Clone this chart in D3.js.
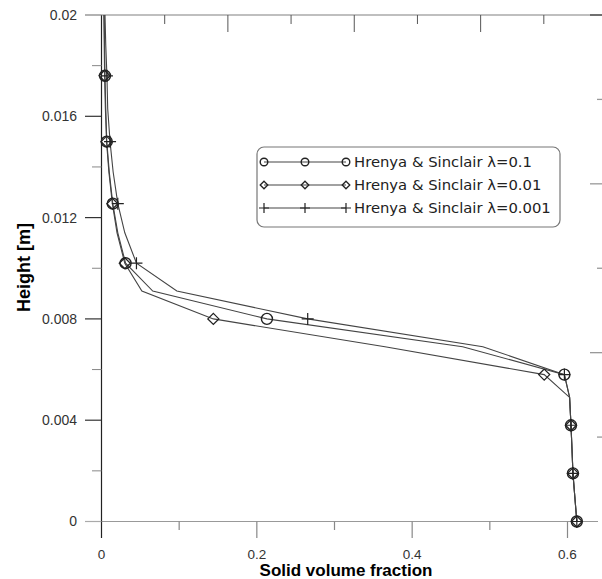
<!DOCTYPE html>
<html><head><meta charset="utf-8">
<script src="https://cdn.jsdelivr.net/npm/d3@7"></script>
<style>body{margin:0;background:#fff}svg{display:block}</style>
</head><body>
<svg id="c" width="602" height="579"></svg>
<script>
// ---- data ----
const heights = [0, 0.00095, 0.0019, 0.00285, 0.0038, 0.0049, 0.0058, 0.0069, 0.008, 0.0091, 0.0102, 0.0114, 0.01255, 0.0138, 0.015, 0.0163, 0.0176, 0.0188, 0.02];
const markerIdx = [0, 2, 4, 6, 8, 10, 12, 14, 16];
const lambda01   = [0.612, 0.6095, 0.607, 0.6058, 0.6045, 0.6027, 0.596, 0.465, 0.213, 0.066, 0.031, 0.021, 0.0145, 0.010, 0.0068, 0.0055, 0.0045, 0.004, 0.0035];
const lambda001  = [0.612, 0.6095, 0.607, 0.6058, 0.6045, 0.6027, 0.570, 0.365, 0.144, 0.052, 0.030, 0.020, 0.014, 0.0095, 0.0065, 0.005, 0.004, 0.0035, 0.003];
const lambda0001 = [0.612, 0.6095, 0.607, 0.6058, 0.6045, 0.6027, 0.596, 0.491, 0.2655, 0.097, 0.045, 0.030, 0.021, 0.015, 0.011, 0.008, 0.007, 0.0055, 0.0045];
const seriesNames = ["Hrenya & Sinclair \u03bb=0.1", "Hrenya & Sinclair \u03bb=0.01", "Hrenya & Sinclair \u03bb=0.001"];
const seriesMarkers = ["circle", "diamond", "plus"];
const xTickValues = [0, 0.2, 0.4, 0.6];
const xMinorTicks = [0.1, 0.3, 0.5];
const yTickValues = [0, 0.004, 0.008, 0.012, 0.016, 0.02];
const yMinorTicks = [0.002, 0.006, 0.01, 0.014, 0.018];
const xTitle = "Solid volume fraction";
const yTitle = "Height [m]";

const series = [lambda01, lambda001, lambda0001].map((v, i) => ({
  name: seriesNames[i], marker: seriesMarkers[i],
  pts: v.map((x, j) => ({x, y: heights[j], j}))
}));

const svg = d3.select("#c");
const x = d3.scaleLinear().domain([0, 0.6]).range([101.5, 567.5]);
const y = d3.scaleLinear().domain([0, 0.02]).range([521.5, 15]);
const FONT = "'Liberation Sans', Arial, sans-serif";

// frame lines
svg.append("line").attr("x1", 85).attr("x2", 602).attr("y1", y(0.02)).attr("y2", y(0.02)).attr("stroke", "#aaa").attr("stroke-width", 1.5);
svg.append("line").attr("x1", 85).attr("x2", 598).attr("y1", y(0)).attr("y2", y(0)).attr("stroke", "#999").attr("stroke-width", 1.2);

// top decorative ticks (secondary axis)
const xTop = d3.scaleLinear().domain([0, 8]).range([101.5, 607]);
d3.range(1, 8).forEach(k => {
  svg.append("line").attr("x1", xTop(k)).attr("x2", xTop(k)).attr("y1", 15).attr("y2", k % 2 === 0 ? 32 : 24).attr("stroke", "#555").attr("stroke-width", 1);
});
svg.append("line").attr("x1", 590).attr("x2", 602).attr("y1", 15).attr("y2", 15).attr("stroke", "#555").attr("stroke-width", 1.5);
// right decorative ticks
const yRight = d3.scaleLinear().domain([0, 6]).range([15, 521.5]);
d3.range(1, 6).forEach(k => {
  svg.append("line").attr("x1", k % 2 === 0 ? 590 : 597).attr("x2", 602).attr("y1", yRight(k)).attr("y2", yRight(k)).attr("stroke", "#999").attr("stroke-width", 1.3);
});

// left axis
svg.append("line").attr("x1", 101.5).attr("x2", 101.5).attr("y1", 15).attr("y2", 538).attr("stroke", "#222").attr("stroke-width", 1.2);
const yAxis = svg.append("g");
yAxis.selectAll("line.maj").data(yTickValues).join("line")
  .attr("x1", 85).attr("x2", 101.5).attr("y1", d => y(d)).attr("y2", d => y(d))
  .attr("stroke", d => (d === 0 || d === 0.02) ? "#aaa" : "#333").attr("stroke-width", 1.2);
yAxis.selectAll("line.min").data(yMinorTicks).join("line")
  .attr("x1", 92).attr("x2", 101.5).attr("y1", d => y(d)).attr("y2", d => y(d))
  .attr("stroke", "#888").attr("stroke-width", 1);
yAxis.selectAll("text").data(yTickValues).join("text")
  .attr("x", 77).attr("y", d => y(d)).attr("dy", "0.35em").attr("text-anchor", "end")
  .attr("font-family", FONT).attr("font-size", 14).attr("fill", "#333")
  .text(d => d === 0 ? "0" : d3.format(".3~f")(d));

// bottom axis
const xAxis = svg.append("g");
xAxis.selectAll("line.maj").data(xTickValues.filter(d => d > 0)).join("line")
  .attr("x1", d => x(d)).attr("x2", d => x(d)).attr("y1", y(0)).attr("y2", 538)
  .attr("stroke", "#888").attr("stroke-width", 1.2);
xAxis.selectAll("line.min").data(xMinorTicks).join("line")
  .attr("x1", d => x(d)).attr("x2", d => x(d)).attr("y1", y(0)).attr("y2", 530)
  .attr("stroke", "#888").attr("stroke-width", 1.2);
xAxis.selectAll("text").data(xTickValues).join("text")
  .attr("x", d => x(d)).attr("y", 559).attr("text-anchor", "middle")
  .attr("font-family", FONT).attr("font-size", 13.5).attr("fill", "#333")
  .text(d => d === 0 ? "0" : d3.format(".1f")(d));

// titles
svg.append("text").attr("x", 346).attr("y", 576).attr("text-anchor", "middle")
  .attr("font-family", FONT).attr("font-weight", "bold").attr("font-size", 17).attr("fill", "#000").text(xTitle);
svg.append("text").attr("transform", "translate(30,267.5) rotate(-90)").attr("text-anchor", "middle")
  .attr("font-family", FONT).attr("font-weight", "bold").attr("font-size", 18).attr("fill", "#000").text(yTitle);

// markers
function drawMarker(g, type, cx, cy, s) {
  if (type === "circle") {
    g.append("circle").attr("cx", cx).attr("cy", cy).attr("r", s).attr("fill", "none").attr("stroke", "#222").attr("stroke-width", 1.4);
  } else if (type === "diamond") {
    g.append("path").attr("d", `M${cx},${cy - s}L${cx + s},${cy}L${cx},${cy + s}L${cx - s},${cy}Z`)
      .attr("fill", "none").attr("stroke", "#222").attr("stroke-width", 1.3);
  } else {
    g.append("path").attr("d", `M${cx - s},${cy}H${cx + s}M${cx},${cy - s}V${cy + s}`)
      .attr("fill", "none").attr("stroke", "#222").attr("stroke-width", 1.2);
  }
}

// lines
const line = d3.line().x(d => x(d.x)).y(d => y(d.y));
const plot = svg.append("g");
series.forEach(s => {
  plot.append("path").datum(s.pts).attr("d", line).attr("fill", "none").attr("stroke", "#444").attr("stroke-width", 1.1);
});
series.forEach(s => {
  const g = plot.append("g");
  s.pts.filter(p => markerIdx.includes(p.j)).forEach(p => {
    drawMarker(g, s.marker, x(p.x), y(p.y), s.marker === "circle" ? 5.5 : (s.marker === "diamond" ? 5.5 : 6));
  });
});

// legend
const lg = svg.append("g");
lg.append("rect").attr("x", 257).attr("y", 147).attr("width", 303).attr("height", 80).attr("rx", 7)
  .attr("fill", "#fff").attr("stroke", "#777").attr("stroke-width", 1.2);
series.forEach((s, i) => {
  const cy = 162 + i * 23;
  lg.append("line").attr("x1", 264).attr("x2", 346).attr("y1", cy).attr("y2", cy).attr("stroke", "#444").attr("stroke-width", 1.1);
  [264, 305, 346].forEach(cx => drawMarker(lg, s.marker, cx, cy, s.marker === "plus" ? 5 : 3.8));
  lg.append("text").attr("x", 354).attr("y", cy).attr("dy", "0.36em")
    .attr("font-family", "'DejaVu Sans', sans-serif").attr("font-size", 14.8).attr("fill", "#222").text(s.name);
});
</script>
</body></html>
